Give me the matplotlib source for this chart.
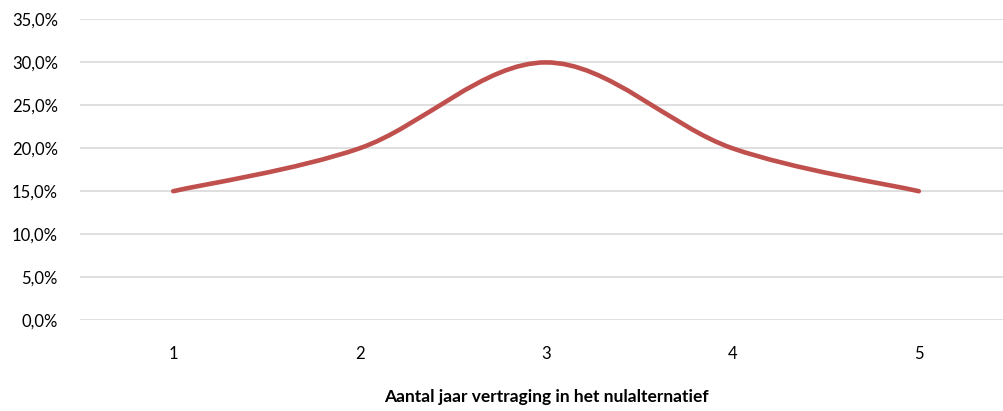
import matplotlib.pyplot as plt
from matplotlib.path import Path
from matplotlib.patches import PathPatch

plt.rcParams['font.family'] = ['Lato', 'DejaVu Sans']

jaren = [1, 2, 3, 4, 5]
kans = [15.0, 20.0, 30.0, 20.0, 15.0]
y_ticks = [0, 5, 10, 15, 20, 25, 30, 35]
y_labels = ['0,0%', '5,0%', '10,0%', '15,0%', '20,0%', '25,0%', '30,0%', '35,0%']
x_title = 'Aantal jaar vertraging in het nulalternatief'

fig = plt.figure(figsize=(10.04, 4.11), dpi=100)
ax = fig.add_axes([0.0797, 0.2214, 0.9283, 0.7312])

# smoothed line like Excel (cubic bezier through the points)
pts = list(zip(jaren, kans))
verts = [pts[0]]
codes = [Path.MOVETO]
n = len(pts)
for i in range(n - 1):
    p0 = pts[max(i - 1, 0)]
    p1 = pts[i]
    p2 = pts[i + 1]
    p3 = pts[min(i + 2, n - 1)]
    c1 = (p1[0] + (p2[0] - p0[0]) / 6, p1[1] + (p2[1] - p0[1]) / 6)
    c2 = (p2[0] - (p3[0] - p1[0]) / 6, p2[1] - (p3[1] - p1[1]) / 6)
    verts += [c1, c2, p2]
    codes += [Path.CURVE4] * 3
ax.add_patch(PathPatch(Path(verts, codes), facecolor='none', edgecolor='#c0504d',
                       lw=3.3, capstyle='round', joinstyle='round', zorder=3))

ax.set_xlim(0.5, 5.5)
ax.set_ylim(0, 35)
ax.set_xticks(jaren)
ax.set_xticklabels([str(j) for j in jaren])
ax.set_yticks(y_ticks)
ax.set_yticklabels(y_labels)
ax.grid(axis='y', color='#d9d9d9', lw=1.2)
ax.set_axisbelow(True)
for s in ax.spines.values():
    s.set_visible(False)
ax.tick_params(axis='both', length=0, labelsize=12, colors='#404040', labelcolor='#000000')
ax.tick_params(axis='y', pad=16)
ax.tick_params(axis='x', pad=19)
fig.text(0.544, 0.014, x_title, ha='center', va='bottom', fontsize=12.5, fontweight='bold')

fig.savefig('out.png', dpi=100)
